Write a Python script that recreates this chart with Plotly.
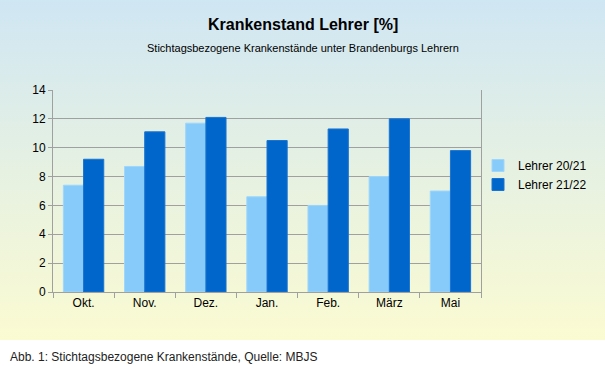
import base64
import plotly.graph_objects as go

categories = ["Okt.", "Nov.", "Dez.", "Jan.", "Feb.", "März", "Mai"]
lehrer_2021 = [7.4, 8.7, 11.7, 6.6, 6.0, 8.0, 7.0]
lehrer_2122 = [9.2, 11.1, 12.1, 10.5, 11.3, 12.0, 9.8]
series_names = ["Lehrer 20/21", "Lehrer 21/22"]
y_ticks = [0, 2, 4, 6, 8, 10, 12, 14]

W, H = 605, 378
FONT = "Liberation Sans, Arial, sans-serif"

svg = (
    '<svg xmlns="http://www.w3.org/2000/svg" viewBox="0 0 10 100" width="10" height="100" preserveAspectRatio="none">'
    '<defs><linearGradient id="g" x1="0" y1="0" x2="0" y2="1">'
    '<stop offset="0" stop-color="#cfe6f3"/>'
    '<stop offset="0.5" stop-color="#e6f1e2"/>'
    '<stop offset="1" stop-color="#fbfbd2"/>'
    '</linearGradient></defs>'
    '<rect width="10" height="100" fill="url(#g)"/></svg>'
)
svg_uri = "data:image/svg+xml;base64," + base64.b64encode(svg.encode()).decode()

ml, mr, mt, mb = 53, 124, 90, 86
pw, ph = W - ml - mr, H - mt - mb

def px_to_paper_x(x):
    return (x - ml) / pw

def px_to_paper_y(y):
    return (H - mb - y) / ph

fig = go.Figure()
fig.add_trace(go.Bar(
    x=categories, y=lehrer_2021, name=series_names[0],
    marker=dict(color="#87cbfa", line=dict(color="#9fd6fb", width=1)),
))
fig.add_trace(go.Bar(
    x=categories, y=lehrer_2122, name=series_names[1],
    marker=dict(color="#0066cc", line=dict(color="#1a74d0", width=1)),
))

fig.update_layout(
    width=W, height=H,
    margin=dict(l=ml, r=mr, t=mt, b=mb),
    paper_bgcolor="white",
    plot_bgcolor="rgba(0,0,0,0)",
    barmode="group",
    bargap=0.34,
    bargroupgap=0,
    font=dict(family=FONT, size=12, color="#000000"),
    showlegend=True,
    legend=dict(
        x=px_to_paper_x(478), y=px_to_paper_y(151), xanchor="left", yanchor="top",
        bgcolor="rgba(0,0,0,0)", font=dict(size=12, family=FONT),
        itemwidth=30,
    ),
    images=[dict(
        source=svg_uri, xref="paper", yref="paper",
        x=px_to_paper_x(0), y=px_to_paper_y(0),
        sizex=W / pw, sizey=340 / ph,
        xanchor="left", yanchor="top", sizing="stretch", layer="below",
    )],
    annotations=[
        dict(text="<b>Krankenstand Lehrer [%]</b>", xref="paper", yref="paper",
             x=px_to_paper_x(302.5), y=px_to_paper_y(25), xanchor="center", yanchor="middle",
             showarrow=False, font=dict(size=16, family=FONT, color="#000")),
        dict(text="Stichtagsbezogene Krankenstände unter Brandenburgs Lehrern", xref="paper", yref="paper",
             x=px_to_paper_x(302.5), y=px_to_paper_y(48), xanchor="center", yanchor="middle",
             showarrow=False, font=dict(size=11, family=FONT, color="#000")),
        dict(text="Abb. 1: Stichtagsbezogene Krankenstände, Quelle: MBJS", xref="paper", yref="paper",
             x=px_to_paper_x(8), y=px_to_paper_y(357), xanchor="left", yanchor="middle",
             showarrow=False, font=dict(size=12, family=FONT, color="#222")),
    ],
)

fig.update_xaxes(
    type="category", showline=True, linecolor="#a0a0a0", linewidth=1,
    ticks="outside", tickson="boundaries", ticklen=5, tickcolor="#a0a0a0",
    showgrid=False, tickfont=dict(size=12, family=FONT),
)
fig.update_yaxes(
    range=[0, 14], tickvals=y_ticks, showline=True, mirror=True,
    linecolor="#a0a0a0", linewidth=1, gridcolor="#a0a0a0", gridwidth=1,
    ticks="outside", ticklen=4, tickcolor="#a0a0a0", zeroline=False,
    tickfont=dict(size=12, family=FONT),
)

fig.write_html(
    "out.html",
    config={"displayModeBar": False},
    post_script="document.documentElement.style.margin='0';document.body.style.margin='0';"
                "document.body.style.padding='0';document.body.style.overflow='hidden';",
)
